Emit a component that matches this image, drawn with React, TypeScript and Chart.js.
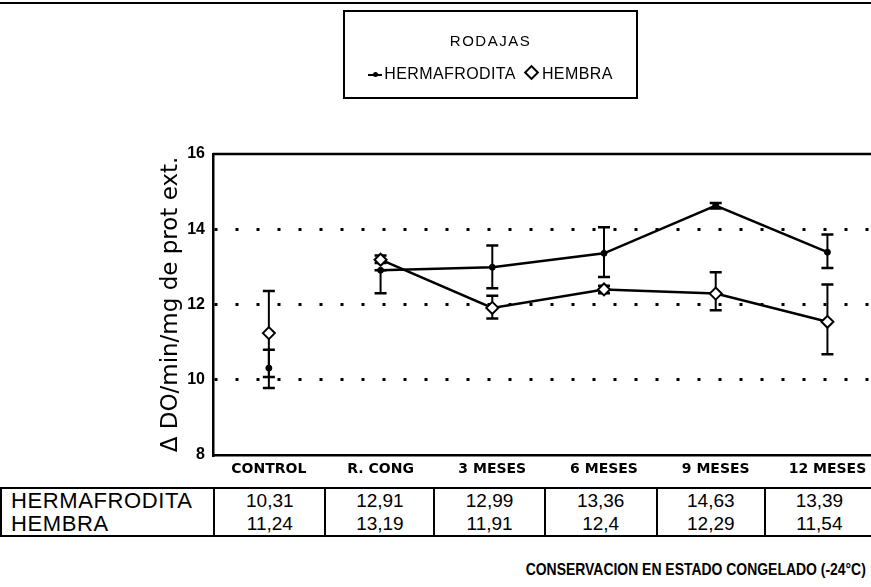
import React, { useEffect, useRef } from "react";
import { Chart, registerables } from "chart.js";

Chart.register(...registerables);

// ---- data ----
const CATEGORIES = ["CONTROL", "R. CONG", "3 MESES", "6 MESES", "9 MESES", "12 MESES"];
const HERMAFRODITA = [10.31, 12.91, 12.99, 13.36, 14.63, 13.39];
const HEMBRA = [11.24, 13.19, 11.91, 12.4, 12.29, 11.54];
const HERM_LOW = [9.78, 12.3, 12.43, 12.73, 14.55, 12.97];
const HERM_HIGH = [10.8, 12.91, 13.57, 14.05, 14.7, 13.86];
const HEMBRA_LOW = [10.07, 13.1, 11.63, 12.3, 11.85, 10.68];
const HEMBRA_HIGH = [12.36, 13.3, 12.23, 12.5, 12.86, 12.53];
const Y_TICKS = [8, 10, 12, 14, 16];
const GRID_VALUES = [10, 12, 14];
const LEGEND_TITLE = "RODAJAS";
const SERIES_NAMES = ["HERMAFRODITA", "HEMBRA"];
const Y_TITLE = "\u0394 DO/min/mg de prot ext.";
const X_TITLE = "CONSERVACION EN ESTADO CONGELADO (-24\u00b0C)";

const fmt = (v: number) => String(v).replace(".", ",");

const errorBarPlugin = {
  id: "errorBars",
  beforeDatasetsDraw(chart: any, _args: any, opts: any) {
    const { ctx } = chart;
    const xs = chart.scales.x;
    const ys = chart.scales.y;
    (opts.series || []).forEach((s: any) => {
      ctx.save();
      ctx.strokeStyle = "#000";
      for (let i = 0; i < s.low.length; i++) {
        const px = xs.getPixelForValue(i);
        const pl = ys.getPixelForValue(s.low[i]);
        const ph = ys.getPixelForValue(s.high[i]);
        ctx.lineWidth = 2;
        ctx.beginPath();
        ctx.moveTo(px, pl);
        ctx.lineTo(px, ph);
        ctx.stroke();
        ctx.lineWidth = 2.5;
        ctx.beginPath();
        ctx.moveTo(px - 6, pl);
        ctx.lineTo(px + 6, pl);
        ctx.moveTo(px - 6, ph);
        ctx.lineTo(px + 6, ph);
        ctx.stroke();
      }
      ctx.restore();
    });
  },
};

const topBorderPlugin = {
  id: "topBorder",
  afterDraw(chart: any) {
    const { ctx, chartArea } = chart;
    ctx.save();
    ctx.strokeStyle = "#000";
    ctx.lineWidth = 2.5;
    ctx.beginPath();
    ctx.moveTo(chartArea.left, chartArea.top);
    ctx.lineTo(chart.width, chartArea.top);
    ctx.stroke();
    ctx.restore();
  },
};

// the control point is not joined to the frozen series
const segmentStyle = {
  borderColor: (c: any) => (c.p0DataIndex === 0 ? "rgba(0,0,0,0)" : "#000"),
};

function PlotChart() {
  const ref = useRef<HTMLCanvasElement | null>(null);
  useEffect(() => {
    if (!ref.current) return;
    const chart = new Chart(ref.current, {
      type: "line",
      data: {
        datasets: [
          {
            label: SERIES_NAMES[0],
            data: HERMAFRODITA.map((v, i) => ({ x: i, y: v })),
            borderColor: "#000",
            borderWidth: 2.5,
            segment: segmentStyle,
            pointStyle: "circle",
            pointRadius: 3,
            pointBackgroundColor: "#000",
            pointBorderColor: "#000",
            pointBorderWidth: 1,
            tension: 0,
          },
          {
            label: SERIES_NAMES[1],
            data: HEMBRA.map((v, i) => ({ x: i, y: v })),
            borderColor: "#000",
            borderWidth: 2.5,
            segment: segmentStyle,
            pointStyle: "rectRot",
            pointRadius: 6,
            pointBackgroundColor: "#fff",
            pointBorderColor: "#000",
            pointBorderWidth: 2,
            tension: 0,
          },
        ],
      },
      options: {
        animation: false,
        responsive: false,
        maintainAspectRatio: false,
        layout: { autoPadding: false, padding: { left: 148, top: 154, right: 0, bottom: 0 } },
        plugins: {
          legend: { display: false },
          tooltip: { enabled: false },
          errorBars: {
            series: [
              { low: HERM_LOW, high: HERM_HIGH },
              { low: HEMBRA_LOW, high: HEMBRA_HIGH },
            ],
          },
        } as any,
        scales: {
          x: {
            type: "linear",
            min: -0.5,
            max: 5.39,
            afterBuildTicks: (scale: any) => {
              scale.ticks = CATEGORIES.map((_, i) => ({ value: i }));
            },
            afterFit: (scale: any) => {
              scale.height = 25;
              scale.paddingLeft = 0;
              scale.paddingRight = 0;
            },
            ticks: {
              autoSkip: false,
              maxRotation: 0,
              padding: 6,
              color: "#000",
              font: { family: "'DejaVu Sans', sans-serif", size: 14, weight: "bold" },
              callback: (v: any) => CATEGORIES[v as number],
            },
            grid: { display: false, drawTicks: false },
            border: { display: true, color: "#000", width: 2.5 },
          },
          y: {
            min: 8,
            max: 16,
            afterBuildTicks: (scale: any) => {
              scale.ticks = Y_TICKS.map((v) => ({ value: v }));
            },
            afterFit: (scale: any) => {
              scale.width = 65;
            },
            ticks: {
              padding: 8,
              color: "#000",
              font: { family: "'Liberation Sans', Arial, sans-serif", size: 16, weight: "bold" },
            },
            grid: {
              drawTicks: false,
              lineWidth: 3,
              color: (c: any) => (GRID_VALUES.includes(c.tick?.value) ? "#000" : "rgba(0,0,0,0)"),
            },
            border: { display: true, color: "#000", width: 2.5, dash: [3, 18] },
            title: {
              display: true,
              text: Y_TITLE,
              color: "#000",
              padding: { top: 9, bottom: 0 },
              font: { family: "'DejaVu Sans', sans-serif", size: 23, weight: "normal" },
            },
          },
        },
      },
      plugins: [errorBarPlugin, topBorderPlugin],
    } as any);
    return () => chart.destroy();
  }, []);
  return (
    <canvas
      ref={ref}
      width={871}
      height={480}
      style={{ position: "absolute", left: 0, top: 0, width: 871, height: 480 }}
    />
  );
}

const COL_WIDTHS = [213, 111, 109, 110, 112, 108, 108];

export default function App() {
  const font = "'Liberation Sans', Arial, sans-serif";
  const cellBase: React.CSSProperties = {
    borderLeft: "2px solid #000",
    padding: 0,
    height: 23,
    lineHeight: "23px",
    textAlign: "center",
    fontSize: 19,
  };
  const labelCell: React.CSSProperties = {
    padding: "0 0 0 9px",
    height: 23,
    lineHeight: "23px",
    textAlign: "left",
    fontSize: 22,
    letterSpacing: 0.6,
    whiteSpace: "nowrap",
  };
  const rows = [
    { name: SERIES_NAMES[0], values: HERMAFRODITA },
    { name: SERIES_NAMES[1], values: HEMBRA },
  ];
  return (
    <div
      style={{
        position: "absolute",
        left: 0,
        top: 0,
        width: 871,
        height: 587,
        background: "#fff",
        overflow: "hidden",
        fontFamily: font,
        color: "#000",
      }}
    >
      <div style={{ position: "absolute", left: 0, top: 2, width: 871, borderTop: "2px solid #000" }} />
      <PlotChart />
      {/* legend box */}
      <div
        style={{
          position: "absolute",
          left: 343,
          top: 10,
          width: 291,
          height: 85,
          border: "2px solid #000",
          textAlign: "center",
        }}
      >
        <div style={{ position: "absolute", left: 0, right: 0, top: 20, fontSize: 15, letterSpacing: 1.5, lineHeight: "18px" }}>
          {LEGEND_TITLE}
        </div>
        <div
          style={{
            position: "absolute",
            left: 0,
            right: 0,
            top: 53,
            fontSize: 16,
            lineHeight: "18px",
            letterSpacing: 0.4,
            whiteSpace: "nowrap",
          }}
        >
          <span style={{ display: "inline-block", position: "relative", width: 14, height: 10, marginRight: 2, verticalAlign: "middle" }}>
            <span style={{ position: "absolute", left: 0, top: 4, width: 14, borderTop: "2px solid #000" }} />
            <span style={{ position: "absolute", left: 5, top: 2, width: 5, height: 5, borderRadius: 3, background: "#000" }} />
          </span>
          {SERIES_NAMES[0]}
          <span
            style={{
              display: "inline-block",
              width: 7,
              height: 7,
              border: "2px solid #000",
              transform: "rotate(45deg)",
              marginLeft: 10,
              marginRight: 5,
              verticalAlign: "middle",
              position: "relative",
              top: -2,
            }}
          />
          {SERIES_NAMES[1]}
        </div>
      </div>
      {/* data table */}
      <table
        style={{
          position: "absolute",
          left: 0,
          top: 487,
          width: 873,
          borderCollapse: "collapse",
          borderTop: "2px solid #000",
          borderBottom: "2px solid #000",
          borderLeft: "2px solid #000",
          tableLayout: "fixed",
          fontFamily: font,
        }}
      >
        <colgroup>
          {COL_WIDTHS.map((w, i) => (
            <col key={i} style={{ width: w }} />
          ))}
        </colgroup>
        <tbody>
          {rows.map((r) => (
            <tr key={r.name}>
              <td style={labelCell}>{r.name}</td>
              {r.values.map((v, i) => (
                <td key={i} style={cellBase}>
                  {fmt(v)}
                </td>
              ))}
            </tr>
          ))}
        </tbody>
      </table>
      <div
        style={{
          position: "absolute",
          right: 5,
          top: 560,
          textAlign: "right",
          fontSize: 17,
          fontWeight: "bold",
          whiteSpace: "nowrap",
          lineHeight: "20px",
          transform: "scaleX(0.82)",
          transformOrigin: "right center",
        }}
      >
        {X_TITLE}
      </div>
    </div>
  );
}
